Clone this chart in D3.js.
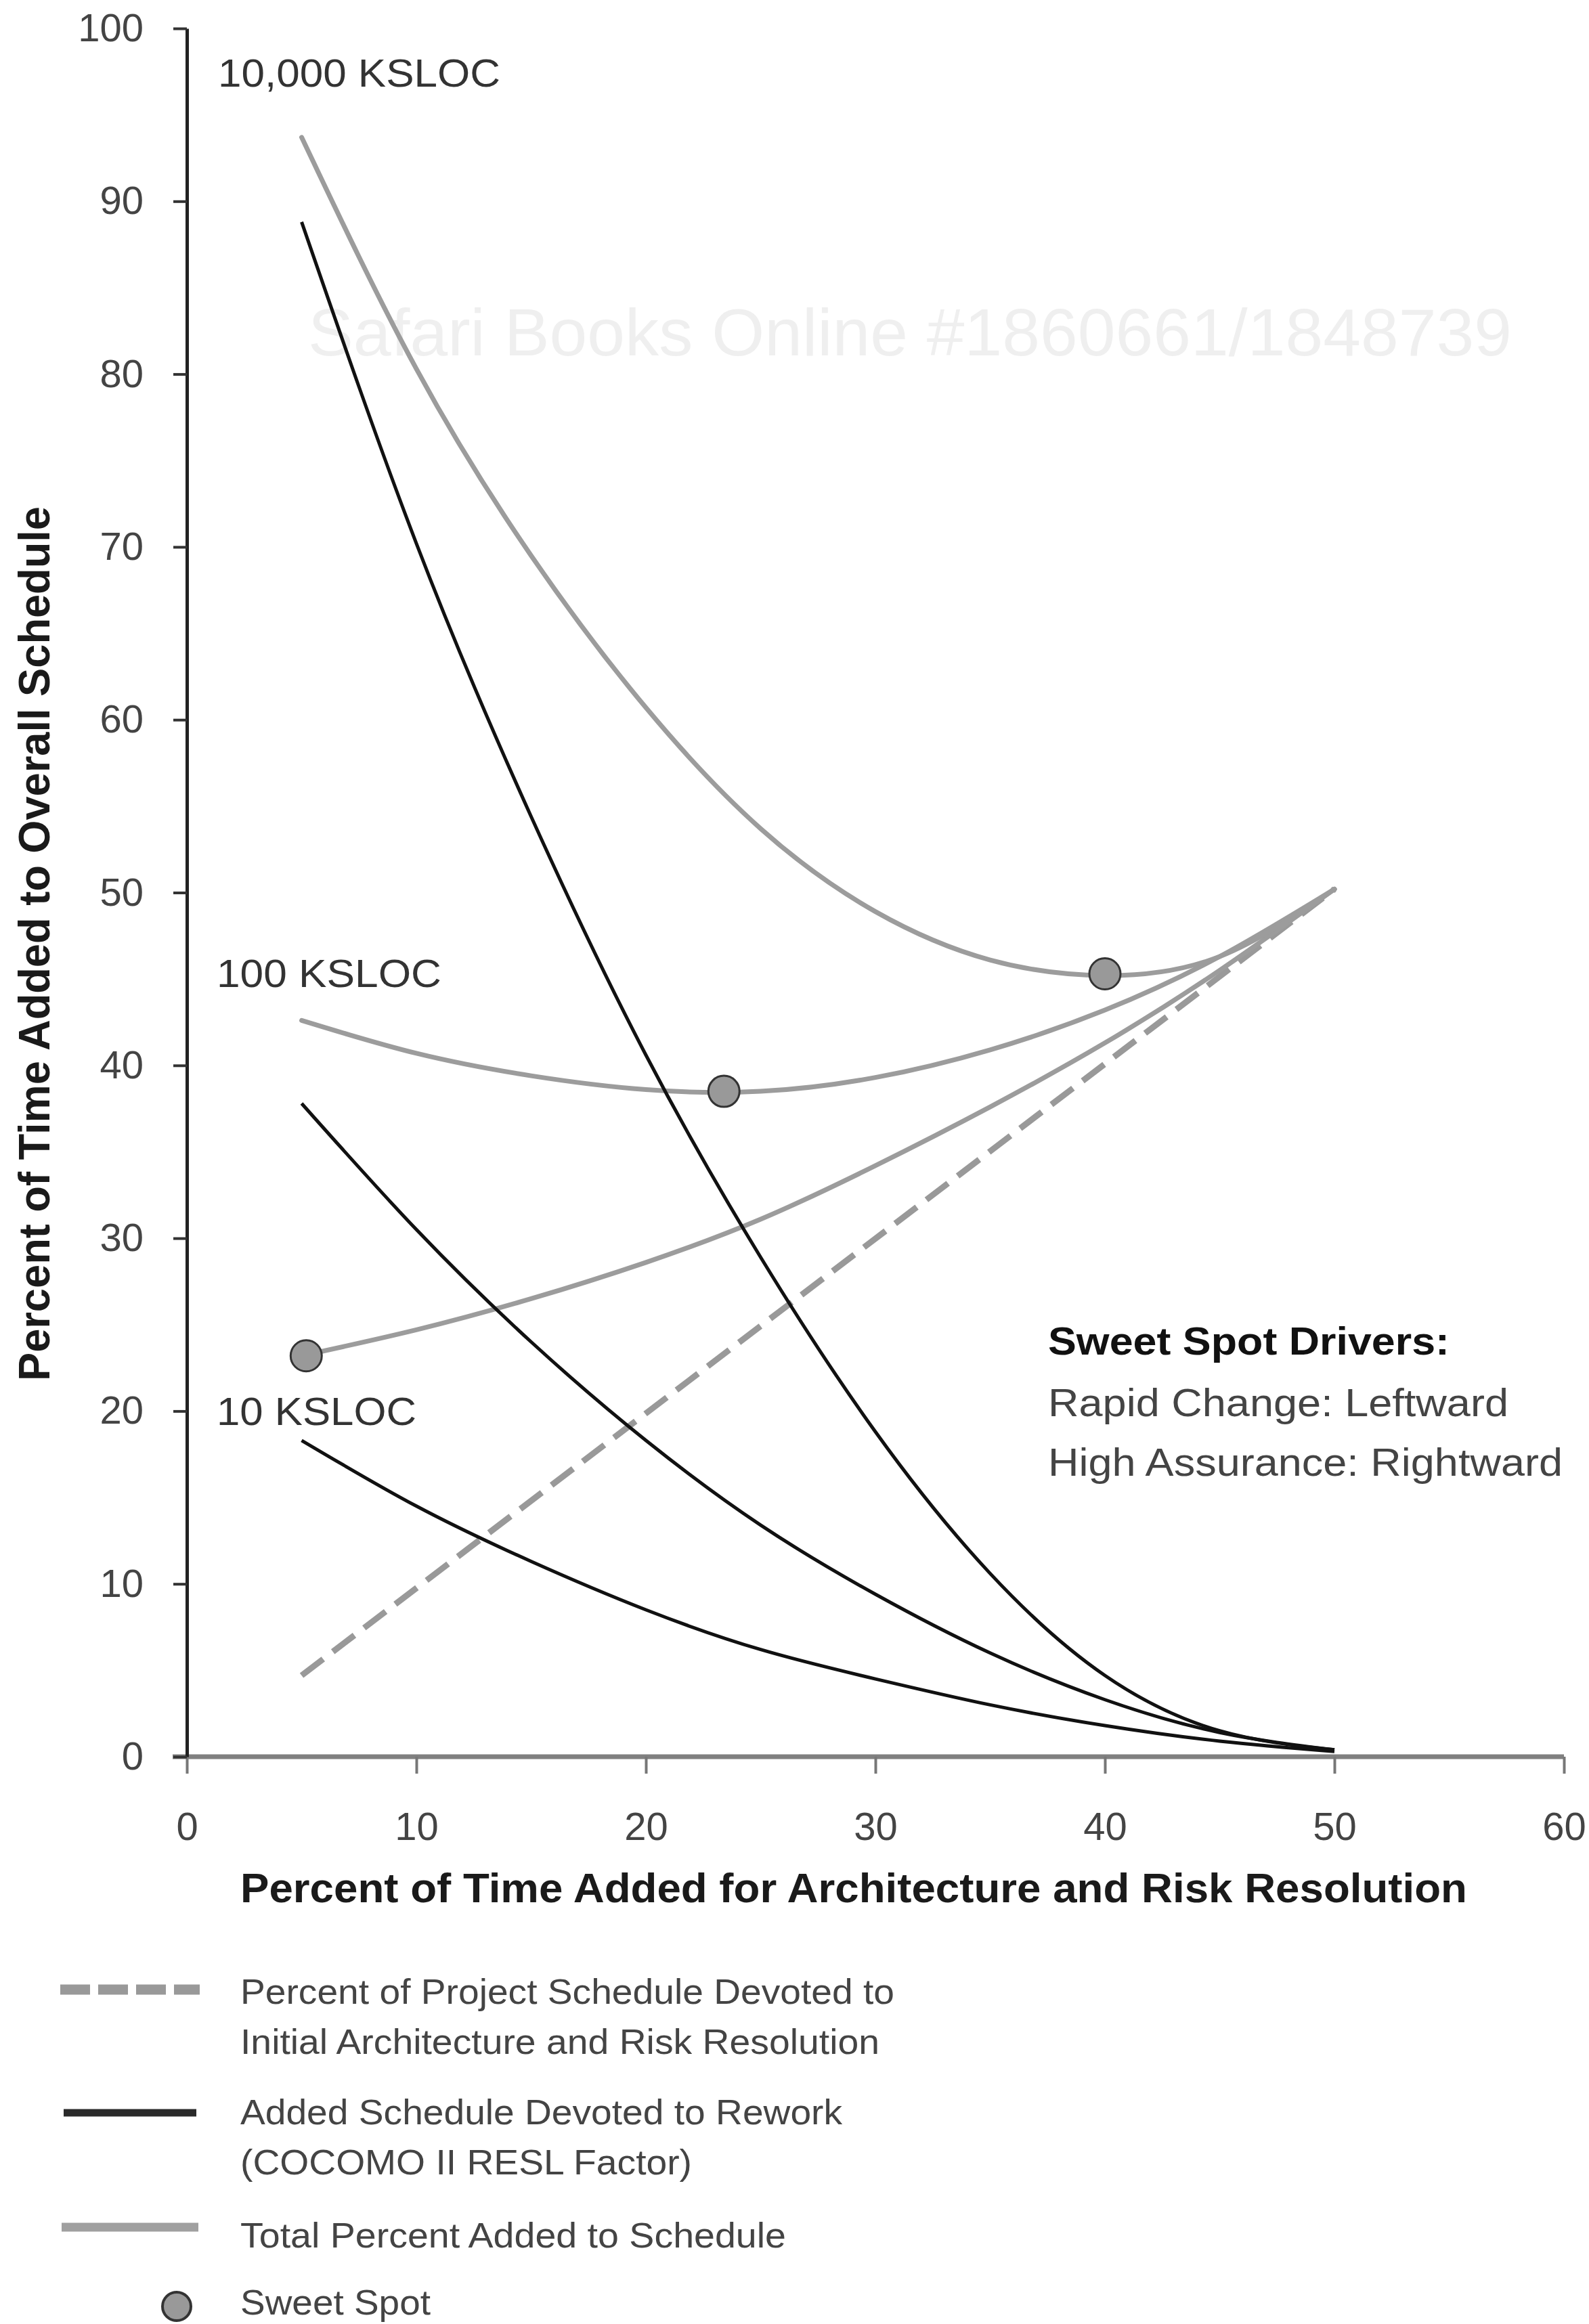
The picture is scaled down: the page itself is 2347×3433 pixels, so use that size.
<!DOCTYPE html>
<html>
<head>
<meta charset="utf-8">
<script src="https://cdn.jsdelivr.net/npm/d3@7"></script>
<style>
  body { margin: 0; background: #fff; }
  svg text { font-family: "Liberation Sans", Arial, Helvetica, sans-serif; }
</style>
</head>
<body>
<script>
// x values (percent of time added for architecture & risk resolution)
var archPct = [5, 10, 15, 20, 25, 30, 35, 40, 45, 50];

// rework curves (COCOMO II RESL)
var rework10 = [18.3, 14.5, 11.3, 8.5, 6.2, 4.5, 3.0, 1.8, 0.9, 0.3];
var rework100 = [37.8, 30.5, 24.0, 18.3, 13.4, 9.4, 6.0, 3.3, 1.4, 0.4];
var rework10000 = [88.8, 70.2, 54.4, 40.6, 28.9, 18.8, 10.6, 4.7, 1.5, 0.4];

// total percent added to schedule
var total10 = [23.2, 24.7, 26.5, 28.6, 31.1, 34.2, 37.6, 41.3, 45.5, 50.2];
var total100 = [42.6, 40.7, 39.4, 38.6, 38.5, 39.3, 40.9, 43.2, 46.3, 50.2];
var total10000 = [93.7, 80.3, 69.5, 60.7, 53.7, 48.9, 46.1, 45.2, 46.3, 50.2];

// dashed line: schedule devoted to architecture
var archLineX = [5, 50];
var archLineY = [4.7, 50.2];

// sweet spots
var sweetX = [5.2, 23.4, 40.0];
var sweetY = [23.2, 38.5, 45.3];

var xTicks = [0, 10, 20, 30, 40, 50, 60];
var yTicks = [0, 10, 20, 30, 40, 50, 60, 70, 80, 90, 100];

var W = 2347, H = 3433;
var svg = d3.select("body").append("svg")
  .attr("width", W).attr("height", H);
svg.append("rect").attr("width", W).attr("height", H).attr("fill", "#fff");

var x = d3.scaleLinear().domain([0, 60]).range([276, 2310]);
var y = d3.scaleLinear().domain([0, 100]).range([2595, 42]);

// faint watermark
svg.append("text")
  .attr("x", 455).attr("y", 525)
  .attr("textLength", 1778).attr("lengthAdjust", "spacingAndGlyphs")
  .style("font-size", "98px").style("fill", "#efefef")
  .text("Safari Books Online #1860661/1848739");

function zip(xs, ys) {
  return xs.map(function(v, i) { return [v, ys[i]]; });
}

var line = d3.line()
  .x(function(d) { return x(d[0]); })
  .y(function(d) { return y(d[1]); })
  .curve(d3.curveNatural);

// dashed architecture line
svg.append("path")
  .attr("d", line(zip(archLineX, archLineY)))
  .attr("fill", "none")
  .attr("stroke", "#999")
  .attr("stroke-width", 9)
  .attr("stroke-dasharray", "40,18");

// totals (grey)
[total10, total100, total10000].forEach(function(s) {
  svg.append("path")
    .attr("d", line(zip(archPct, s)))
    .attr("fill", "none")
    .attr("stroke", "#9c9c9c")
    .attr("stroke-width", 7)
    .attr("stroke-linecap", "round");
});

// rework (black)
[rework10, rework100, rework10000].forEach(function(s) {
  svg.append("path")
    .attr("d", line(zip(archPct, s)))
    .attr("fill", "none")
    .attr("stroke", "#111")
    .attr("stroke-width", 5);
});

// sweet spot markers
svg.selectAll("circle.sweet")
  .data(zip(sweetX, sweetY))
  .enter().append("circle")
  .attr("class", "sweet")
  .attr("cx", function(d) { return x(d[0]); })
  .attr("cy", function(d) { return y(d[1]); })
  .attr("r", 23)
  .attr("fill", "#999")
  .attr("stroke", "#333")
  .attr("stroke-width", 3);

// axes
var xAxis = svg.append("g")
  .attr("transform", "translate(0," + y(0) + ")")
  .call(d3.axisBottom(x).tickValues(xTicks).tickSize(25).tickSizeOuter(0).tickPadding(57));
xAxis.select(".domain").attr("stroke", "#808080").attr("stroke-width", 7)
  .attr("d", "M255,0H" + x(60));
xAxis.selectAll(".tick line").attr("stroke", "#777").attr("stroke-width", 4);
xAxis.selectAll(".tick text")
  .style("font-size", "58px").style("fill", "#444")
  .style("font-family", "Liberation Sans, Arial, sans-serif");

var yAxis = svg.append("g")
  .attr("transform", "translate(" + x(0) + ",0)")
  .call(d3.axisLeft(y).tickValues(yTicks).tickSize(20).tickSizeOuter(0).tickPadding(44));
yAxis.select(".domain").attr("stroke", "#222").attr("stroke-width", 5);
yAxis.selectAll(".tick line").attr("stroke", "#333").attr("stroke-width", 4);
yAxis.selectAll(".tick text")
  .style("font-size", "58px").style("fill", "#444")
  .style("font-family", "Liberation Sans, Arial, sans-serif");

// axis titles
svg.append("text")
  .attr("x", 1261).attr("y", 2810)
  .attr("text-anchor", "middle")
  .attr("textLength", 1812).attr("lengthAdjust", "spacingAndGlyphs")
  .style("font-size", "62px").style("font-weight", "bold").style("fill", "#1a1a1a")
  .text("Percent of Time Added for Architecture and Risk Resolution");

svg.append("text")
  .attr("transform", "translate(73,1394) rotate(-90)")
  .attr("text-anchor", "middle")
  .attr("textLength", 1292).attr("lengthAdjust", "spacingAndGlyphs")
  .style("font-size", "64px").style("font-weight", "bold").style("fill", "#1a1a1a")
  .text("Percent of Time Added to Overall Schedule");

// size labels
var sizeLabels = [
  { t: "10,000 KSLOC", x: 322, y: 128, w: 417 },
  { t: "100 KSLOC", x: 320, y: 1458, w: 332 },
  { t: "10 KSLOC", x: 320, y: 2105, w: 295 }
];
sizeLabels.forEach(function(d) {
  svg.append("text")
    .attr("x", d.x).attr("y", d.y)
    .attr("textLength", d.w).attr("lengthAdjust", "spacingAndGlyphs")
    .style("font-size", "57px").style("fill", "#333")
    .text(d.t);
});

// sweet spot drivers note
var notes = [
  { t: "Sweet Spot Drivers:", y: 2001, w: 593, b: true },
  { t: "Rapid Change: Leftward", y: 2092, w: 680, b: false },
  { t: "High Assurance: Rightward", y: 2180, w: 760, b: false }
];
notes.forEach(function(d) {
  svg.append("text")
    .attr("x", 1548).attr("y", d.y)
    .attr("textLength", d.w).attr("lengthAdjust", "spacingAndGlyphs")
    .style("font-size", "58px")
    .style("font-weight", d.b ? "bold" : "normal")
    .style("fill", d.b ? "#111" : "#444")
    .text(d.t);
});

// legend
var lg = svg.append("g");
lg.append("line").attr("x1", 89).attr("x2", 295).attr("y1", 2939).attr("y2", 2939)
  .attr("stroke", "#999").attr("stroke-width", 15).attr("stroke-dasharray", "44,12");
lg.append("line").attr("x1", 94).attr("x2", 290).attr("y1", 3121).attr("y2", 3121)
  .attr("stroke", "#2a2a2a").attr("stroke-width", 11);
lg.append("line").attr("x1", 91).attr("x2", 293).attr("y1", 3290).attr("y2", 3290)
  .attr("stroke", "#a0a0a0").attr("stroke-width", 13);
lg.append("circle").attr("cx", 261).attr("cy", 3407).attr("r", 21)
  .attr("fill", "#999").attr("stroke", "#333").attr("stroke-width", 4);

var legendText = [
  { t: "Percent of Project Schedule Devoted to", y: 2960, w: 966 },
  { t: "Initial Architecture and Risk Resolution", y: 3034, w: 944 },
  { t: "Added Schedule Devoted to Rework", y: 3138, w: 889 },
  { t: "(COCOMO II RESL Factor)", y: 3212, w: 667 },
  { t: "Total Percent Added to Schedule", y: 3320, w: 806 },
  { t: "Sweet Spot", y: 3419, w: 281 }
];
legendText.forEach(function(d) {
  lg.append("text")
    .attr("x", 355).attr("y", d.y)
    .attr("textLength", d.w).attr("lengthAdjust", "spacingAndGlyphs")
    .style("font-size", "52px").style("fill", "#444")
    .text(d.t);
});
</script>
</body>
</html>
